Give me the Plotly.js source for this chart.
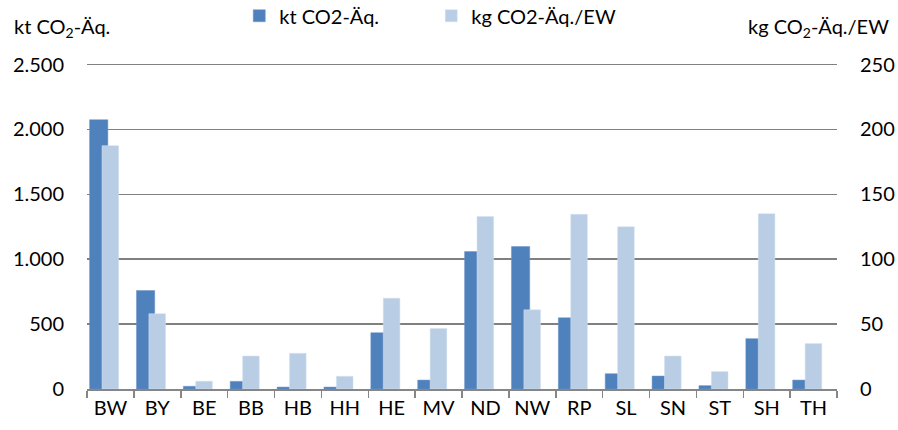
<!DOCTYPE html>
<html>
<head>
<meta charset="utf-8">
<script src="https://cdn.plot.ly/plotly-3.0.1.min.js"></script>
<style>html,body{margin:0;padding:0;background:#fff;}#chart{width:898px;height:430px;}</style>
</head>
<body>
<div id="chart"></div>
<script>
const categories = ["BW","BY","BE","BB","HB","HH","HE","MV","ND","NW","RP","SL","SN","ST","SH","TH"];
const ktCO2 = [2075, 759, 21, 59, 15, 15, 434, 69, 1059, 1098, 549, 118, 100, 26, 388, 69];
const kgPerEW = [187.5, 58, 6, 25.4, 27.5, 9.8, 70, 46.7, 133, 61, 134.6, 125, 25.4, 13.4, 135, 35];
const seriesNames = ["kt CO2-Äq.", "kg CO2-Äq./EW"];
const leftTitle = "kt CO<sub>2</sub>-Äq.";
const rightTitle = "kg CO<sub>2</sub>-Äq./EW";

const FONT = "Lato, 'Open Sans', sans-serif";
const data = [
  {type:"bar", x:categories, y:ktCO2, name:seriesNames[0], yaxis:"y",
   marker:{color:"#4F81BD", line:{color:"#6C95C8", width:0.5}}, offset:-0.445, width:0.39, hoverinfo:"x+y"},
  {type:"bar", x:categories, y:kgPerEW, name:seriesNames[1], yaxis:"y2",
   marker:{color:"#B9CDE5", line:{color:"#D3E0EF", width:0.5}}, offset:-0.18, width:0.355, hoverinfo:"x+y"}
];
const layout = {
  width:898, height:430,
  margin:{l:87, r:61, t:63, b:41, autoexpand:false},
  paper_bgcolor:"#fff", plot_bgcolor:"#fff",
  font:{family:FONT, size:20, color:"#000"},
  separators:",.",
  barmode:"overlay",
  showlegend:true,
  legend:{orientation:"h", x:0.203, xanchor:"left", y:1.145, yanchor:"middle",
          font:{size:20, color:"#000"}, entrywidth:147, itemclick:false, traceorder:"normal"},
  xaxis:{type:"category", tickson:"boundaries", ticks:"outside", ticklen:7, tickcolor:"#868686", tickwidth:1.5,
         showline:true, linecolor:"#868686", linewidth:1.5, showgrid:false, tickfont:{size:20},
         range:[-0.5, 15.5], fixedrange:true},
  yaxis:{range:[0,2512], dtick:500, tick0:0, separatethousands:true, showgrid:true, gridcolor:"#808080", gridwidth:1.6,
         showline:false, zeroline:false, ticks:"", ticklabelstandoff:22, tickfont:{size:20}, fixedrange:true},
  yaxis2:{range:[0,251.2], dtick:50, tick0:0, overlaying:"y", side:"right", showgrid:false, showline:false,
          zeroline:false, ticks:"", ticklabelstandoff:22, tickfont:{size:20}, fixedrange:true},
  annotations:[
    {text:leftTitle, xref:"paper", yref:"paper", x:-0.1, y:1.11, xanchor:"left", yanchor:"middle",
     showarrow:false, font:{size:20, color:"#000"}},
    {text:rightTitle, xref:"paper", yref:"paper", x:1.072, y:1.11, xanchor:"right", yanchor:"middle",
     showarrow:false, font:{size:20, color:"#000"}}
  ]
};
Plotly.newPlot("chart", data, layout, {displayModeBar:false, staticPlot:true});
</script>
</body>
</html>
